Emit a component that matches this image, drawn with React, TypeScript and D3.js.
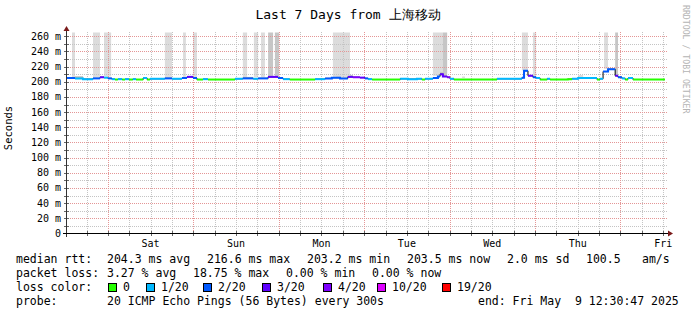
import React from "react";
import * as d3 from "d3";

// ---- data ----
// hours since start of the window (end Fri May 9 12:30:47 2025, 7 days)
const totalHours = 168;
const firstMidnight = 11.487;
const dayLabels = ["Sat", "Sun", "Mon", "Tue", "Wed", "Thu", "Fri"];
const yTicks = [0, 20, 40, 60, 80, 100, 120, 140, 160, 180, 200, 220, 240, 260];

// median rtt segments: [startHour, medianMs, lostPings]
const medianSegments: [number, number, number][] = [
  [0, 205, 2], [2.25, 204.5, 1], [4.5, 203.5, 1], [7.3, 204.5, 2], [9.27, 206, 3],
  [10.4, 205.5, 1], [11.5, 204.5, 2], [12.6, 203.5, 1], [13.5, 203, 0], [14.3, 203.5, 1],
  [15.5, 203, 0], [16.3, 203.5, 1], [17.4, 203, 0], [18.5, 203.5, 1], [19.4, 203, 0],
  [21.4, 205, 1], [22.5, 203, 0], [23.3, 204, 1], [27.5, 204.5, 2], [29.5, 204, 1],
  [32.3, 205, 2], [33.7, 206.5, 3], [35.4, 205, 2], [36.5, 203, 0], [38.2, 203.5, 1],
  [39.6, 203, 0], [47.2, 204, 1], [49.4, 204.5, 2], [52.3, 204, 1], [53.7, 204.5, 2],
  [56.5, 206.5, 3], [59.3, 205, 2], [60.7, 203.5, 1], [62.6, 203, 0], [69.7, 203.5, 1],
  [72.5, 204.5, 2], [74.4, 205.5, 2], [76.7, 204.5, 2], [78.9, 206.5, 3], [80.3, 206, 4],
  [82.3, 205.5, 3], [83.7, 204.5, 2], [84.6, 203.5, 1], [85.7, 203, 0], [93.6, 204, 1],
  [95.8, 203.5, 1], [98.3, 204, 1], [99.7, 203, 0], [100.6, 204, 1], [102.8, 205, 2],
  [104.2, 207, 2], [104.8, 210, 3], [105.6, 207, 3], [106.8, 206, 4], [107.6, 204, 1],
  [108.7, 203, 0], [120.8, 204, 1], [127.8, 205.5, 2], [128.4, 214.5, 2], [129.5, 208, 3],
  [130.9, 206, 2], [131.8, 205, 1], [132.9, 203, 0], [134.9, 204, 1], [135.7, 203, 0],
  [140.7, 203.5, 0], [141.9, 204, 1], [143.6, 205, 1], [145.0, 205, 1], [148.9, 203, 0],
  [149.7, 204, 1], [150.6, 213.5, 2], [152.0, 216.6, 2], [154.0, 208, 3], [154.8, 206, 2],
  [155.9, 204.5, 1], [156.8, 203, 0], [157.6, 205, 1], [159.0, 203, 0],
];

// smoke: [startHour, endHour, lowMs, highMs, shade 0=light 1=dark]
const smokeBars: [number, number, number, number, number][] = [
  [1.4, 2.25, 206, 265, 0], [7.3, 9.27, 206, 265, 0], [10.4, 12.4, 207, 265, 0],
  [27.5, 29.5, 205, 265, 0], [32.6, 33.4, 206, 265, 0], [35.4, 36.5, 206, 265, 0],
  [49.4, 50.6, 206, 265, 0], [52.5, 53.7, 206, 265, 0], [54.5, 55.6, 206, 265, 0],
  [56.5, 57.9, 207, 265, 1], [58.4, 59.6, 207, 265, 1], [74.7, 79.5, 206, 265, 0],
  [102.8, 105.6, 208, 265, 0], [105.6, 106.8, 207, 265, 1], [127.8, 129.5, 215, 265, 0],
  [130.9, 131.8, 207, 265, 0], [150.9, 152.0, 217, 265, 0], [154.0, 154.8, 208, 265, 1],
  [2.25, 4.5, 204.5, 207.5, 1], [49.4, 52.3, 204.5, 206.5, 1], [75.6, 76.7, 205, 207, 1],
  [79.5, 80.3, 206.5, 209, 1], [104.8, 105.6, 210, 213, 1], [111.0, 111.8, 205, 207, 0],
  [143.6, 145.0, 205, 209, 0],
];

const lossLevels = [0, 1, 2, 3, 4, 10, 19];
const lossLabels = ["0", "1/20", "2/20", "3/20", "4/20", "10/20", "19/20"];
const lossColors = ["#26ff00", "#00b8ff", "#0059ff", "#5e00ff", "#7e00ff", "#dd00ff", "#ff0000"];

const medianLegend: [string, number][] = [
  ["median rtt:", 16], ["204.3 ms avg", 107], ["216.6 ms max", 207], ["203.2 ms min", 307],
  ["203.5 ms now", 407], ["2.0 ms sd", 507], ["100.5", 586], ["am/s", 642],
];
const lossLegend: [string, number][] = [
  ["packet loss:", 16], ["3.27 % avg", 107], ["18.75 % max", 193], ["0.00 % min", 286], ["0.00 % now", 372],
];
const lossSwatchX = [108, 146, 203, 262, 323, 377, 442];

const W = 697, H = 315;
const FONT = "'DejaVu Sans Mono', monospace";
const MINOR = "#c4c4c4";
const MAJOR = "#e49696";

export default function App() {
  const x = d3.scaleLinear().domain([0, totalHours]).range([67, 665]);
  const y = d3.scaleLinear().domain([0, 265]).range([233.5, 32.5]);
  const pxi = (v: number) => Math.round(v);

  const minorV = d3.range(firstMidnight - 6, totalHours, 6).filter((h) => h > 0);
  const majorV = d3.range(firstMidnight, totalHours, 24);
  const labelH = d3.range(firstMidnight + 12, totalHours + 1, 24);
  const minorH = d3.range(10, 265, 10);
  const isMajor = (h: number) => majorV.some((m) => Math.abs(m - h) < 0.01);

  // black step line underneath
  let black = "";
  medianSegments.forEach((s, i) => {
    const end = i + 1 < medianSegments.length ? medianSegments[i + 1][0] : totalHours;
    black += (i === 0 ? `M${x(s[0])},${y(s[1])}` : `V${y(s[1])}`) + `H${x(end)}`;
  });

  // coloured runs
  const runs: { color: string; d: string }[] = [];
  let i = 0;
  while (i < medianSegments.length) {
    const loss = medianSegments[i][2];
    let d = `M${x(medianSegments[i][0])},${y(medianSegments[i][1])}`;
    let j = i;
    while (j < medianSegments.length && medianSegments[j][2] === loss) {
      const end = j + 1 < medianSegments.length ? medianSegments[j + 1][0] : totalHours;
      if (j > i) d += `V${y(medianSegments[j][1])}`;
      d += `H${x(end)}`;
      j++;
    }
    runs.push({ color: lossColors[lossLevels.indexOf(loss)], d });
    i = j;
  }

  const hLine = (key: string, yy: number, pat: string) => (
    <rect key={key} x={67} y={pxi(yy)} width={600} height={1} fill={`url(#${pat})`} shapeRendering="crispEdges" />
  );
  const vLine = (key: string, xx: number, pat: string) => (
    <rect key={key} x={pxi(xx)} y={31} width={1} height={202} fill={`url(#${pat})`} shapeRendering="crispEdges" />
  );

  return (
    <div style={{ position: "absolute", left: 0, top: 0 }}>
      <svg width={W} height={H} style={{ display: "block", background: "#fff" }} fontFamily={FONT}>
        <defs>
          <pattern id="hMinor" patternUnits="userSpaceOnUse" width={2} height={1}>
            <rect width={1} height={1} fill={MINOR} />
          </pattern>
          <pattern id="hMajor" patternUnits="userSpaceOnUse" width={2} height={1}>
            <rect width={1} height={1} fill={MAJOR} />
          </pattern>
          <pattern id="vMinor" patternUnits="userSpaceOnUse" width={1} height={2}>
            <rect width={1} height={1} fill={MINOR} />
          </pattern>
          <pattern id="vMajor" patternUnits="userSpaceOnUse" width={1} height={2}>
            <rect width={1} height={1} fill={MAJOR} />
          </pattern>
        </defs>
        <rect width={W} height={H} fill="#fff" />
        <text x={348} y={19} textAnchor="middle" fontSize={13} fill="#000">
          Last 7 Days from 上海移动
        </text>
        {/* smoke */}
        {smokeBars.map((b, k) => (
          <rect key={"s" + k} x={x(b[0])} width={x(b[1]) - x(b[0])} y={y(b[3])} height={y(b[2]) - y(b[3])}
            fill={b[4] ? "#c6c6c6" : "#dcdcdc"} />
        ))}
        {/* grid */}
        {minorH.filter((v) => v % 20 !== 0).map((v) => hLine("mh" + v, y(v), "hMinor"))}
        {minorV.filter((h) => !isMajor(h)).map((h) => vLine("mv" + h, x(h), "vMinor"))}
        {yTicks.filter((v) => v > 0).map((v) => hLine("Mh" + v, y(v), "hMajor"))}
        {majorV.map((h) => vLine("Mv" + h, x(h), "vMajor"))}
        {/* median */}
        <path d={black} fill="none" stroke="#000" strokeWidth={1} />
        {runs.map((r, k) => (
          <path key={"r" + k} d={r.d} fill="none" stroke={r.color} strokeWidth={2} />
        ))}
        {/* axes */}
        {minorH.map((v) => (
          <rect key={"yt" + v} x={64} y={pxi(y(v))} width={5} height={1} fill="#666" shapeRendering="crispEdges" />
        ))}
        {minorV.map((h) => (
          <rect key={"xt" + h} x={pxi(x(h))} y={231} width={1} height={5} fill="#666" shapeRendering="crispEdges" />
        ))}
        <rect x={66} y={30} width={1} height={207} fill="#333" shapeRendering="crispEdges" />
        <rect x={63} y={233} width={605} height={1} fill="#000" shapeRendering="crispEdges" />
        <path d="M63.5,31 L66.5,26 L69.5,31 Z" fill="#7a1a1a" />
        <path d="M668,230.5 L673,233.5 L668,236.5 Z" fill="#7a1a1a" />
        {/* y labels */}
        {yTicks.map((v) => (
          <text key={"yl" + v} x={61} y={y(v) + 3.5} textAnchor="end" fontSize={10} fill="#000">
            {v === 0 ? "0" : `${v} m`}
          </text>
        ))}
        {labelH.map((h, k) => (
          <text key={"xl" + k} x={x(h)} y={247} textAnchor="middle" fontSize={10} fill="#000">
            {dayLabels[k]}
          </text>
        ))}
        <text transform="translate(12,128) rotate(-90)" textAnchor="middle" fontSize={10.5} fill="#000">Seconds</text>
        <text transform="translate(683,5) rotate(90)" textAnchor="start" fontSize={8.2} fill="#b4b4b4">RRDTOOL / TOBI OETIKER</text>
        {/* legend */}
        {medianLegend.map(([t, lx], k) => (
          <text key={"ml" + k} x={lx} y={263} fontSize={11.5} fill="#000" style={{ whiteSpace: "pre" }}>{t}</text>
        ))}
        {lossLegend.map(([t, lx], k) => (
          <text key={"ll" + k} x={lx} y={277} fontSize={11.5} fill="#000" style={{ whiteSpace: "pre" }}>{t}</text>
        ))}
        <text x={16} y={291} fontSize={11.5} fill="#000">loss color:</text>
        {lossLabels.map((t, k) => (
          <g key={"lc" + k}>
            <rect x={lossSwatchX[k] + 0.5} y={283.5} width={8} height={8} fill={lossColors[k]} stroke="#000" shapeRendering="crispEdges" />
            <text x={lossSwatchX[k] + 15} y={291} fontSize={11.5} fill="#000">{t}</text>
          </g>
        ))}
        <text x={16} y={305} fontSize={11.5} fill="#000">probe:</text>
        <text x={107} y={305} fontSize={11.5} fill="#000">20 ICMP Echo Pings (56 Bytes) every 300s</text>
        <text x={478} y={305} fontSize={11.5} fill="#000" style={{ whiteSpace: "pre" }}>end: Fri May  9 12:30:47 2025</text>
      </svg>
    </div>
  );
}
